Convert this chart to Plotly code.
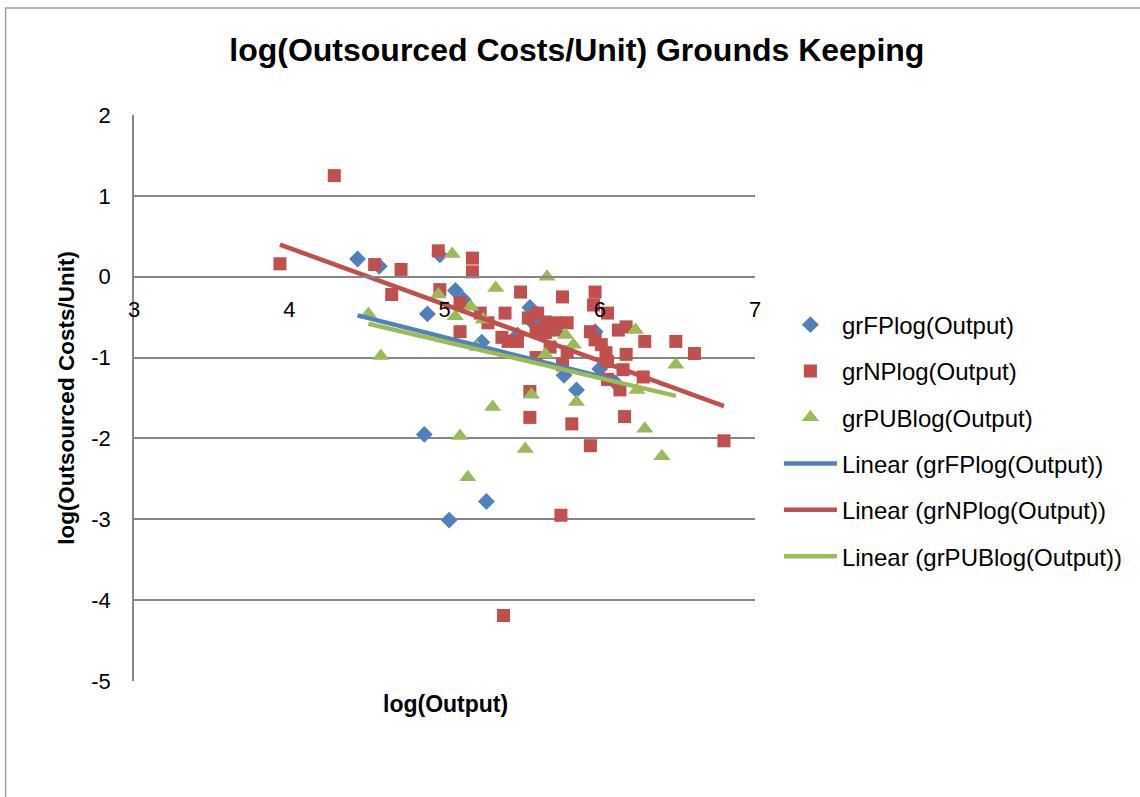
import numpy as np
import plotly.graph_objects as go

# grFPlog(Output)
fp_x = [4.44, 4.58, 4.97, 4.89, 5.07, 5.12, 4.87, 5.03, 5.27, 5.24, 5.47, 5.55, 5.57,
        5.77, 5.85, 5.97, 6.00, 6.10]
fp_y = [0.22, 0.13, 0.27, -0.46, -0.17, -0.28, -1.95, -3.01, -2.78, -0.81, -0.72, -0.38, -0.57,
        -1.22, -1.40, -0.68, -1.14, -1.31]

# grNPlog(Output)
np_x = [4.29, 3.94, 4.55, 4.72, 4.66, 4.96, 5.18, 5.18, 4.97, 5.10, 5.10, 5.23, 5.28, 5.39,
        5.49, 5.37, 5.41, 5.47, 5.54, 5.60, 5.65, 5.72, 5.79, 5.59, 5.65, 5.72, 5.76, 5.59,
        5.68, 5.79, 5.97, 5.96, 5.94, 5.97, 6.01, 6.04, 6.05, 6.05, 6.12, 6.17, 6.29, 6.49,
        6.61, 6.17, 6.15, 6.28, 6.13, 6.05, 5.55, 5.55, 5.82, 5.94, 6.16, 6.80, 5.75, 5.38,
        5.76]
np_y = [1.25, 0.16, 0.15, 0.09, -0.22, 0.32, 0.23, 0.06, -0.16, -0.32, -0.68, -0.45, -0.57, -0.45,
        -0.19, -0.75, -0.80, -0.80, -0.51, -0.45, -0.56, -0.57, -0.57, -0.66, -0.69, -0.66, -0.25, -1.00,
        -0.87, -0.93, -0.19, -0.35, -0.68, -0.78, -0.84, -0.94, -1.05, -0.45, -0.66, -0.62, -0.80, -0.80,
        -0.95, -0.96, -1.15, -1.24, -1.40, -1.27, -1.42, -1.74, -1.82, -2.09, -1.73, -2.03, -2.95, -4.19,
        -1.09]

# grPUBlog(Output)
pub_x = [4.51, 4.59, 4.96, 5.05, 5.07, 5.17, 5.25, 5.33, 5.21, 5.66, 5.78, 5.83, 5.65, 6.23,
         6.24, 6.49, 5.56, 5.85, 6.29, 6.40, 5.52, 5.31, 5.10, 5.15]
pub_y = [-0.46, -0.98, -0.22, 0.28, -0.49, -0.37, -0.53, -0.14, -0.87, 0.00, -0.72, -0.84, -0.96, -0.66,
         -1.40, -1.09, -1.46, -1.55, -1.88, -2.22, -2.13, -1.61, -1.97, -2.48]

x_ticks = [3, 4, 5, 6, 7]
x_tick_text = ["3", "4", "5", "6", "7"]
y_ticks = [2, 1, 0, -1, -2, -3, -4, -5]
y_tick_text = ["2", "1", "0", "-1", "-2", "-3", "-4", "-5"]

names = ["grFPlog(Output)", "grNPlog(Output)", "grPUBlog(Output)"]
colors = ["#4F81BD", "#C0504D", "#9BBB59"]
symbols = ["diamond", "square", "triangle-up"]
sizes = [13, 13, 15]
series = [(fp_x, fp_y), (np_x, np_y), (pub_x, pub_y)]

FONT = "Liberation Sans"

fig = go.Figure()
for i, (xs, ys) in enumerate(series):
    fig.add_trace(go.Scatter(
        x=xs, y=ys, mode="markers", name=names[i], legendgroup=f"m{i}",
        marker=dict(symbol=symbols[i], color=colors[i], size=sizes[i], line=dict(width=0)),
    ))

for i, (xs, ys) in enumerate(series):
    xa = np.array(xs)
    ya = np.array(ys)
    m, b = np.polyfit(xa, ya, 1)
    lx = np.array([xa.min(), xa.max()])
    fig.add_trace(go.Scatter(
        x=lx, y=m * lx + b, mode="lines", name=f"Linear ({names[i]})", legendgroup=f"l{i}",
        line=dict(color=colors[i], width=4.5),
    ))

grid_col = "#868686"
fig.update_layout(
    width=1140, height=797,
    paper_bgcolor="white", plot_bgcolor="white",
    margin=dict(l=134, r=382, t=115, b=116),
    font=dict(family=FONT, color="black"),
    title=dict(text="<b>log(Outsourced Costs/Unit) Grounds Keeping</b>",
               x=0.506, xanchor="center", y=0.937, yanchor="middle",
               font=dict(size=32, family=FONT)),
    xaxis=dict(range=[3, 7], tickvals=x_ticks, ticktext=x_tick_text, showgrid=False, zeroline=False,
               showline=True, linecolor=grid_col, linewidth=1.5,
               anchor="free", position=5 / 7,
               tickfont=dict(size=22), ticks="", ticklabelstandoff=13),
    yaxis=dict(range=[-5, 2], tickvals=y_ticks, ticktext=y_tick_text,
               showgrid=True, gridcolor=grid_col, gridwidth=1.5,
               zeroline=False, showline=True, linecolor=grid_col, linewidth=1.5,
               tickfont=dict(size=22), ticks="", ticklabelstandoff=17,
               title=dict(text="<b>log(Outsourced Costs/Unit)</b>", font=dict(size=22.5), standoff=10)),
    legend=dict(x=1.0385, xanchor="left", y=0.6686, yanchor="top",
                font=dict(size=24), traceorder="grouped", tracegroupgap=12.1,
                bgcolor="rgba(0,0,0,0)", itemwidth=53),
    showlegend=True,
    annotations=[dict(text="<b>log(Output)</b>", xref="paper", yref="paper",
                      x=0.502, y=-0.041, xanchor="center", yanchor="middle",
                      showarrow=False, font=dict(size=23, family=FONT))],
    shapes=[dict(type="rect", xref="paper", yref="paper",
                 x0=-0.2067, x1=1.65, y0=-0.25, y1=1.189,
                 line=dict(color="#A0A0A0", width=1.5), fillcolor="rgba(0,0,0,0)", layer="below")],
)

fig.write_html("out.html", config={"displayModeBar": False},
               post_script="document.body.style.margin='0';")
